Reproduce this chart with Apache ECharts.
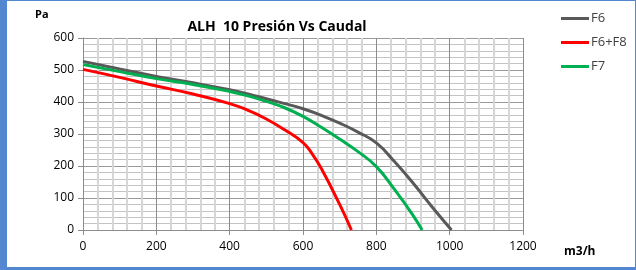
<!DOCTYPE html>
<html>
<head>
<meta charset="utf-8">
<script src="https://cdn.jsdelivr.net/npm/echarts@6/dist/echarts.min.js"></script>
<style>
  html, body { margin: 0; padding: 0; background: #fff; }
  #wrap { position: relative; width: 636px; height: 270px; }
  #chart { position: absolute; left: 0; top: 0; width: 636px; height: 270px; }
  #frame {
    position: absolute; left: 0; top: 0; width: 636px; height: 270px;
    box-sizing: border-box; pointer-events: none;
    border-style: solid; border-color: #5388d0;
    border-width: 1px 1px 3px 7px;
  }
</style>
</head>
<body>
<div id="wrap">
  <div id="chart"></div>
  <div id="frame"></div>
</div>
<script>
// caudal (m3/h) and presión (Pa)
const f6Flow = [0, 100, 200, 300, 400, 450, 500, 550, 600, 650, 700, 750, 800, 850, 900, 950, 1005];
const f6Pres = [527, 503, 480, 460, 438, 425, 410, 395, 379, 358, 334, 306, 272, 213, 147, 75, 0];

const f68Flow = [0, 100, 200, 300, 400, 450, 500, 550, 600, 625, 650, 700, 732];
const f68Pres = [502, 477, 450, 425, 395, 374, 347, 313, 273, 238, 192, 80, 0];

const f7Flow = [0, 100, 200, 300, 400, 450, 500, 550, 600, 650, 700, 750, 800, 850, 900, 925];
const f7Pres = [517, 495, 473, 455, 433, 419, 402, 382, 355, 321, 284, 245, 198, 126, 46, 0];

const seriesNames = ['F6', 'F6+F8', 'F7'];
const seriesColors = ['#595959', '#ff0000', '#00b050'];

const xTicks = [0, 200, 400, 600, 800, 1000, 1200];
const yTicks = [0, 100, 200, 300, 400, 500, 600];

const chart = echarts.init(document.getElementById('chart'));
const font = 'Open Sans, Noto Sans, sans-serif';

function pairs(xs, ys) {
  return xs.map((x, i) => [x, ys[i]]);
}

const curves = [pairs(f6Flow, f6Pres), pairs(f68Flow, f68Pres), pairs(f7Flow, f7Pres)];

chart.setOption({
  animation: false,
  textStyle: { fontFamily: font },
  title: {
    text: 'ALH  10 Presión Vs Caudal',
    left: 272, top: 15, textAlign: 'center',
    textStyle: { fontSize: 14, fontWeight: 'bold', color: '#000', fontFamily: font },
  },
  graphic: [
    { type: 'text', left: 35, top: 9, style: { text: 'Pa', font: 'bold 11px ' + font, fill: '#000' } },
    { type: 'text', left: 564, top: 246, style: { text: 'm3/h', font: 'bold 12px ' + font, fill: '#000' } },
  ],
  legend: {
    orient: 'vertical', left: 556, top: 7,
    itemWidth: 28, itemHeight: 3, itemGap: 11, icon: 'rect',
    textStyle: { fontSize: 13, color: '#404040', padding: [0, 0, 0, -3] },
    data: seriesNames,
  },
  grid: { left: 83, right: 113, top: 38, bottom: 40 },
  xAxis: {
    type: 'value', min: xTicks[0], max: xTicks[xTicks.length - 1], interval: 200,
    axisLine: { show: true, lineStyle: { color: '#8c8c8c' } },
    axisTick: { show: true, length: 5, lineStyle: { color: '#8c8c8c' } },
    axisLabel: { fontSize: 12, color: '#000', margin: 11, formatter: (v) => String(v) },
    splitLine: { show: true, lineStyle: { color: '#8c8c8c', width: 1 } },
    minorTick: { show: false, splitNumber: 5 },
    minorSplitLine: { show: true, lineStyle: { color: '#d6d6d6', width: 2 } },
  },
  yAxis: {
    type: 'value', min: yTicks[0], max: yTicks[yTicks.length - 1], interval: 100,
    axisLine: { show: true, lineStyle: { color: '#8c8c8c' } },
    axisTick: { show: true, length: 5, lineStyle: { color: '#8c8c8c' } },
    axisLabel: { fontSize: 12, color: '#000', margin: 9 },
    splitLine: { show: true, lineStyle: { color: '#999999', width: 1 } },
    minorTick: { show: false, splitNumber: 5 },
    minorSplitLine: { show: true, lineStyle: { color: '#c4c4c4', width: 1 } },
  },
  series: curves.map((d, i) => ({
    name: seriesNames[i],
    type: 'line',
    data: d,
    smooth: 0.5,
    showSymbol: false,
    symbol: 'none',
    lineStyle: { color: seriesColors[i], width: 3 },
    itemStyle: { color: seriesColors[i] },
  })),
});
</script>
</body>
</html>
